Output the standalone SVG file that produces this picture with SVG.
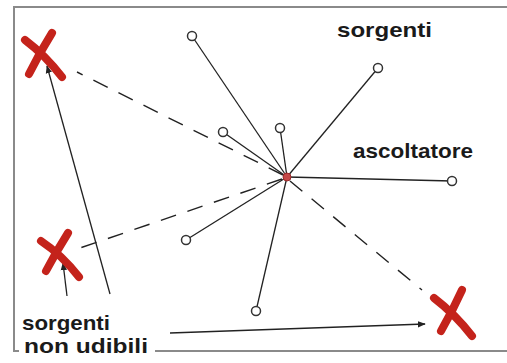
<svg xmlns="http://www.w3.org/2000/svg" width="507" height="363" viewBox="0 0 507 363">
<style>
.frame{fill:none;stroke:#8a8a8a;stroke-width:2}
.ray{stroke:#222;stroke-width:1.3;fill:none}
.dash{stroke:#222;stroke-width:1.4;fill:none;stroke-dasharray:16 12}
.arr{stroke:#222;stroke-width:1.3;fill:none;marker-end:url(#ah)}
.src{fill:#fff;stroke:#333;stroke-width:1.5}
.x{stroke:#c4231b;stroke-width:8;stroke-linecap:round;fill:none}
.lbl{font-family:"Liberation Sans",Arial,sans-serif;font-weight:bold;font-size:21px;fill:#1a1a1a}
</style>
<defs>
<marker id="ah" viewBox="0 0 10 10" refX="9" refY="5" markerWidth="8" markerHeight="8" markerUnits="userSpaceOnUse" orient="auto">
<path d="M0,1 L10,5 L0,9 z" fill="#222"/>
</marker>
</defs>
<rect width="507" height="363" fill="#fff"/>
<g id="frame">
<path class="frame" d="M507,7 H14 V351 H507"/>
</g>
<g id="connectors">
<line class="ray" x1="287" y1="177" x2="192" y2="36"/>
<line class="ray" x1="287" y1="177" x2="378" y2="68"/>
<line class="ray" x1="287" y1="177" x2="223" y2="132"/>
<line class="ray" x1="287" y1="177" x2="280" y2="128"/>
<line class="ray" x1="287" y1="177" x2="452" y2="181" style="stroke-width:1.6"/>
<line class="ray" x1="287" y1="177" x2="186" y2="240"/>
<line class="ray" x1="287" y1="177" x2="256" y2="311"/>
<line class="dash" x1="283" y1="175" x2="77" y2="72"/>
<line class="dash" x1="282" y1="179" x2="80" y2="248"/>
<line class="dash" x1="290" y1="181" x2="422" y2="290"/>
<line class="arr" x1="110" y1="294" x2="47" y2="66"/>
<line class="arr" x1="67" y1="296" x2="63" y2="263"/>
<line class="arr" x1="170" y1="333" x2="425" y2="324"/>
</g>
<g id="listener">
<circle cx="287" cy="177" r="4" fill="#c54848" stroke="#9a2a2a" stroke-width="1"/>
</g>
<g id="sources">
<circle class="src" cx="192" cy="36" r="4.5"/>
<circle class="src" cx="378" cy="68" r="4.5"/>
<circle class="src" cx="223" cy="132" r="4.5"/>
<circle class="src" cx="280" cy="128" r="4.5"/>
<circle class="src" cx="452" cy="181" r="4.5"/>
<circle class="src" cx="186" cy="240" r="4.5"/>
<circle class="src" cx="256" cy="311" r="4.5"/>
</g>
<g id="x-top-left">
<path class="x" d="M25,40 Q45,55 62,77"/>
<path class="x" d="M52,33 Q40,52 29,74"/>
</g>
<g id="x-mid-left">
<path class="x" d="M41,241 Q62,255 79,277"/>
<path class="x" d="M68,233 Q56,252 46,271"/>
</g>
<g id="x-bottom-right">
<path class="x" d="M434,298 Q455,314 472,336"/>
<path class="x" d="M462,290 Q452,312 441,331"/>
</g>
<g id="labels">
<text class="lbl" x="337" y="37" textLength="95" lengthAdjust="spacingAndGlyphs">sorgenti</text>
<text class="lbl" x="353" y="158" textLength="120" lengthAdjust="spacingAndGlyphs">ascoltatore</text>
<rect x="19" y="336" width="136" height="22" fill="#fff"/>
<text class="lbl" x="22" y="330" textLength="88" lengthAdjust="spacingAndGlyphs">sorgenti</text>
<text class="lbl" x="24" y="353" textLength="124" lengthAdjust="spacingAndGlyphs">non udibili</text>
</g>
</svg>
